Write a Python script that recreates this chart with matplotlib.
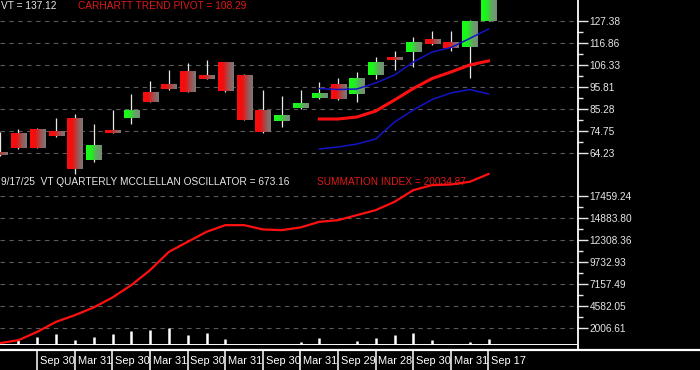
import numpy as np
import matplotlib
matplotlib.use("Agg")
import matplotlib.pyplot as plt
from matplotlib.colors import LinearSegmentedColormap

plt.rcParams['font.family'] = ['Liberation Sans', 'DejaVu Sans']

# ---------------- data ----------------
opens  = [64.70, 73.79, 75.71, 74.75, 80.97, 60.87, 74.75, 80.97, 92.93, 97.24,
          102.98, 101.54, 107.29, 101.54, 84.32, 79.53, 85.75, 90.54, 96.76, 92.45,
          101.54, 109.68, 112.55, 118.77, 117.33, 114.94, 127.38]
highs  = [74.27, 75.71, 76.19, 80.97, 82.88, 78.10, 84.80, 92.45, 98.67, 103.94,
          107.29, 108.72, 107.76, 102.02, 94.37, 91.50, 94.37, 98.20, 100.11, 102.98,
          110.16, 113.03, 119.70, 122.60, 122.60, 127.86, 137.40]
lows   = [63.00, 66.30, 66.40, 72.10, 54.18, 59.92, 73.60, 78.10, 88.40, 94.60,
          93.20, 99.40, 93.41, 79.80, 74.00, 76.66, 85.28, 90.30, 89.80, 88.62,
          99.63, 103.94, 105.37, 116.10, 113.03, 100.11, 127.20]
closes = [63.27, 66.62, 66.62, 72.36, 56.57, 67.57, 73.79, 84.32, 88.62, 94.85,
          93.41, 99.63, 93.89, 80.01, 74.27, 81.93, 87.67, 92.93, 90.06, 99.63,
          107.29, 108.72, 116.86, 116.38, 114.46, 127.38, 137.12]

line_start = 17  # index of first candle with indicator lines
trend_pivot = [80.49, 80.49, 81.45, 84.30, 89.58, 95.08, 99.87, 102.98, 106.33, 108.29]
band_upper  = [95.08, 94.60, 94.85, 97.72, 101.54, 107.76, 112.55, 114.70, 119.01, 123.55]
band_lower  = [66.14, 67.10, 68.53, 70.92, 79.06, 84.80, 89.82, 92.93, 94.61, 92.45]

summation = [234, 585, 1557, 2728, 3512, 4414, 5584, 7024, 8780, 10923,
             12093, 13264, 14048, 14048, 13545, 13463, 13779, 14434, 14634, 15219,
             15804, 16776, 18146, 18731, 18813, 19118, 20034.87]
oscillator = [0, 585, 936, 1288, 585, 936, 1288, 1639, 1756, 1990,
              1170, 1405, 702, 0, -234, 0, 351, 819, 117, 468,
              819, 1170, 1405, 585, 0, 351, 673.16]

price_ticks = [127.38, 116.86, 106.33, 95.81, 85.28, 74.75, 64.23]
sum_ticks = [17459.24, 14883.80, 12308.36, 9732.93, 7157.49, 4582.05, 2006.61]

date_labels = ["Sep 30", "Mar 31", "Sep 30", "Mar 31", "Sep 30", "Mar 31", "Sep 30",
               "Mar 31", "Sep 29", "Mar 28", "Sep 30", "Mar 31", "Sep 17"]
date_idx = [2, 4, 6, 8, 10, 12, 14, 16, 18, 20, 22, 24, 26]

# ---------------- layout ----------------
W, H = 700, 370
fig = plt.figure(figsize=(7, 3.7), dpi=100, facecolor='black')

def rect(x0, y0, x1, y1):
    return [x0 / W, 1 - y1 / H, (x1 - x0) / W, (y1 - y0) / H]

XL = (0.016, 30.707)
grid_col = '#5a5a5a'
tick_col = '#e6e6e6'
FS = 7.3

ax1 = fig.add_axes(rect(0, 0, 577, 176))
ax2 = fig.add_axes(rect(0, 172, 577, 345))
ax3 = fig.add_axes(rect(0, 350, 700, 370))

for ax in (ax1, ax2, ax3):
    ax.set_facecolor('none')
    ax.patch.set_visible(False)
    for s in ax.spines.values():
        s.set_visible(False)

# ---------- top panel ----------
ax1.set_xlim(*XL)
ax1.set_ylim(53.22, 137.43)
red_cmap = LinearSegmentedColormap.from_list('r', ['#ff0a0a', '#f01010', '#a05050', '#7a7a7a'])
grn_cmap = LinearSegmentedColormap.from_list('g', ['#14ff14', '#20f020', '#60a860', '#7a8a7a'])
grad = np.linspace(0, 1, 64).reshape(1, -1)
bw = 0.40
for i, (o, h, l, c) in enumerate(zip(opens, highs, lows, closes)):
    ax1.vlines(i, l, h, color='#e8e8e8', lw=0.9, zorder=2, clip_on=False)
    top, bot = max(o, c), min(o, c)
    if bot == top:
        top += 0.3
    cmap = grn_cmap if c > o else red_cmap
    ax1.imshow(grad, cmap=cmap, extent=[i - bw, i + bw, bot, top], aspect='auto',
               zorder=3, interpolation='bilinear')

xs = np.arange(line_start, line_start + len(trend_pivot))
ax1.plot(xs, band_upper, color='#1414c8', lw=1.1, zorder=4)
ax1.plot(xs, band_lower, color='#1414c8', lw=1.1, zorder=4)
ax1.plot(xs, trend_pivot, color='#ff1010', lw=2.2, zorder=4)
ax1.set_xlim(*XL)
ax1.set_ylim(53.22, 137.43)

for t in price_ticks:
    ax1.axhline(t, color=grid_col, lw=0.8, ls=(0, (4, 4)), zorder=1)

ax1.yaxis.tick_right()
ax1.set_yticks(price_ticks)
ax1.set_yticklabels([f"{t:.2f}" for t in price_ticks])
ax1.set_yticks([(a + b) / 2 for a, b in zip(price_ticks[:-1], price_ticks[1:])], minor=True)
ax1.set_xticks([])
ax1.tick_params(axis='y', which='major', colors=tick_col, length=8, width=1.0,
                labelsize=FS, pad=1)
ax1.tick_params(axis='y', which='minor', colors=tick_col, length=4.5, width=1.0)
ax1.text(0.001, 0.965, "VT = 137.12", transform=ax1.transAxes, color='#e6e6e6',
         fontsize=FS, va='center', ha='left')
ax1.text(78 / 577, 0.965, "CARHARTT TREND PIVOT = 108.29", transform=ax1.transAxes,
         color='#e01818', fontsize=FS, va='center', ha='left')

# ---------- bottom panel ----------
ax2.set_xlim(*XL)
ax2.set_ylim(16.49, 20268.9)
for t in sum_ticks:
    ax2.axhline(t, color=grid_col, lw=0.8, ls=(0, (4, 4)), zorder=1)
ax2.axhline(16.49, color='white', lw=1.4, zorder=2)
ax2.vlines(np.arange(len(oscillator)), 0, oscillator, color='white', lw=1.8, zorder=3)
ax2.plot(np.arange(len(summation)), summation, color='#ff1010', lw=1.6, zorder=5,
         clip_on=False)
ax2.yaxis.tick_right()
ax2.set_yticks(sum_ticks)
ax2.set_yticklabels([f"{t:.2f}" for t in sum_ticks])
ax2.set_yticks([(a + b) / 2 for a, b in zip(sum_ticks[:-1], sum_ticks[1:])], minor=True)
ax2.set_xticks([])
ax2.tick_params(axis='y', which='major', colors=tick_col, length=8, width=1.0,
                labelsize=FS, pad=1)
ax2.tick_params(axis='y', which='minor', colors=tick_col, length=4.5, width=1.0)
ax2.text(0.002, 1 - 10 / 173, "9/17/25  VT QUARTERLY MCCLELLAN OSCILLATOR = 673.16",
         transform=ax2.transAxes, color='#e6e6e6', fontsize=FS, va='center', ha='left',
         zorder=4)
ax2.text(317 / 577, 1 - 10 / 173, "SUMMATION INDEX = 20034.87", transform=ax2.transAxes,
         color='#e01818', fontsize=FS, va='center', ha='left', zorder=4)

# ---------- date row ----------
ax3.set_xlim(0.016, 37.266)
ax3.set_ylim(0, 1)
ax3.axhline(1.0, color='white', lw=1.6, clip_on=False)
ax3.set_xticks([])
ax3.set_yticks([])
for i, lab in zip(date_idx, date_labels):
    ax3.axvline(i, color='white', lw=1.1)
    ax3.text(i + 0.15, 0.45, lab, color='white', fontsize=FS + 0.6, va='center', ha='left')

# vertical price axis line
fig.add_artist(plt.Line2D([577.5 / W, 577.5 / W], [1 - 350 / H, 1.0],
                          transform=fig.transFigure, color='white', lw=1.3))

fig.savefig("out.png", dpi=100, facecolor='black')
